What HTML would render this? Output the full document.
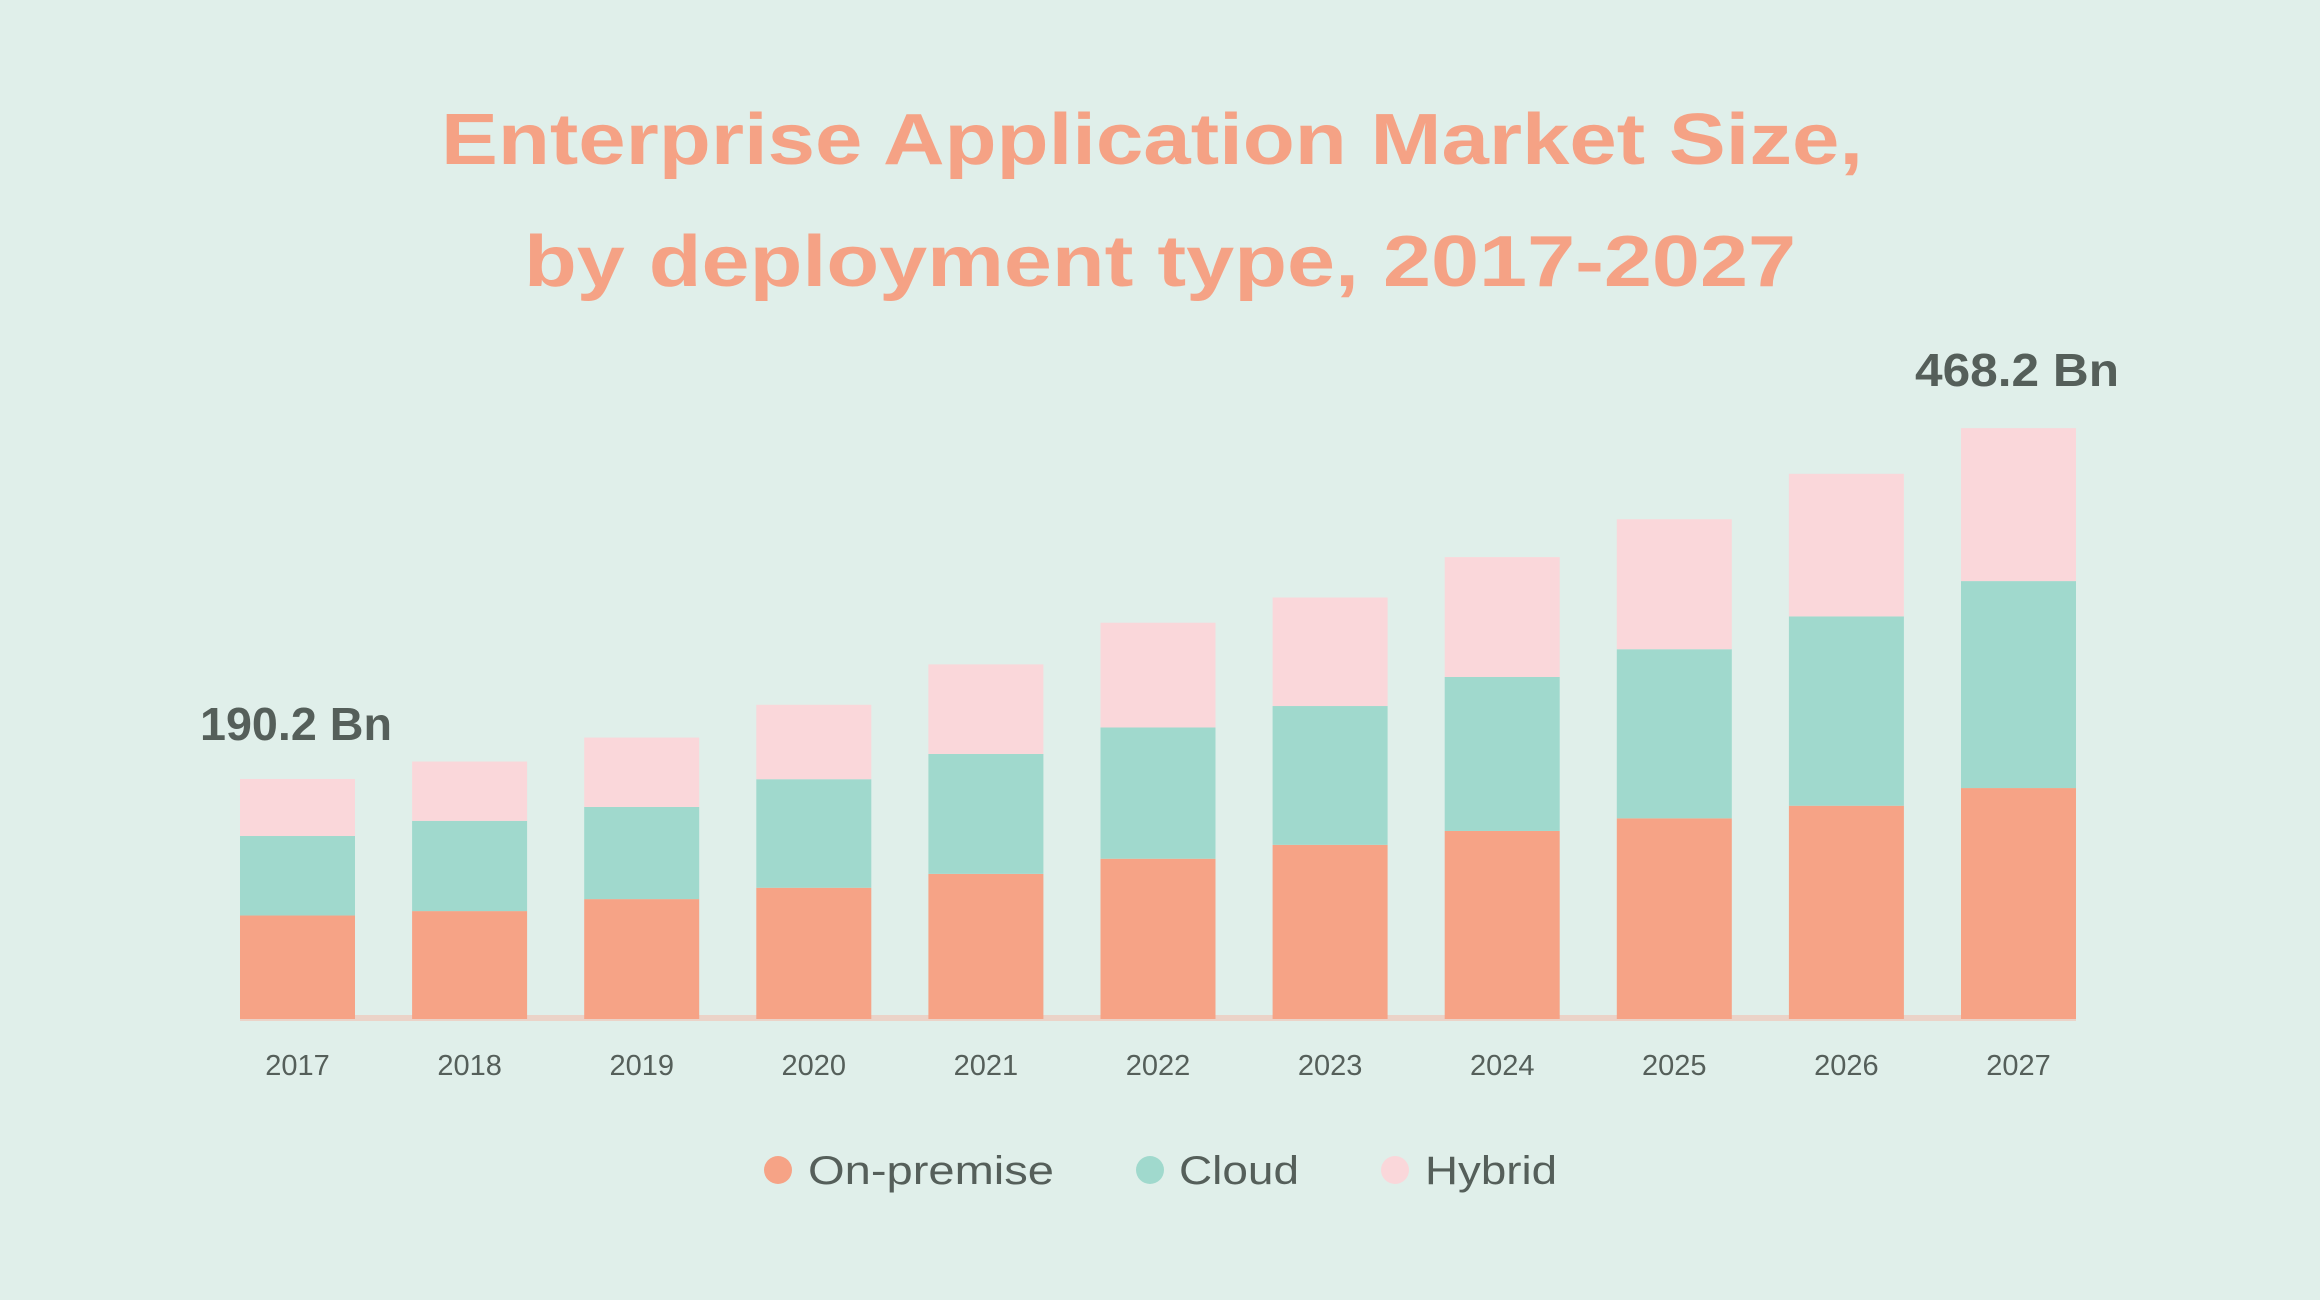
<!DOCTYPE html>
<html><head><meta charset="utf-8"><style>
html,body{margin:0;padding:0;background:#E0EFEA;}
svg{display:block;font-family:"Liberation Sans",sans-serif;}
</style></head><body>
<svg id="chart" width="2320" height="1300" viewBox="0 0 2320 1300" xmlns="http://www.w3.org/2000/svg">
<rect width="2320" height="1300" fill="#E0EFEA"/>
<text x="1152" y="164" text-anchor="middle" font-size="72" font-weight="bold" fill="#F5A285" textLength="1422" lengthAdjust="spacingAndGlyphs">Enterprise Application Market Size,</text>
<text x="1160" y="286" text-anchor="middle" font-size="72" font-weight="bold" fill="#F5A285" textLength="1272" lengthAdjust="spacingAndGlyphs">by deployment type, 2017-2027</text>
<rect x="240" y="1015" width="1836" height="6" fill="#EBD3C8"/>
<g id="bars"></g>
<g id="labels"></g>
<text x="296" y="740" text-anchor="middle" font-size="46" font-weight="bold" fill="#555F5A" textLength="192" lengthAdjust="spacingAndGlyphs">190.2 Bn</text>
<text x="2017" y="386" text-anchor="middle" font-size="46" font-weight="bold" fill="#555F5A" textLength="204" lengthAdjust="spacingAndGlyphs">468.2 Bn</text>
<g>
<g><circle cx="778" cy="1170" r="14" fill="#F6A386"/><text x="808" y="1184" font-size="40" fill="#555F5A" textLength="246" lengthAdjust="spacingAndGlyphs">On-premise</text></g>
<g><circle cx="1150" cy="1170" r="14" fill="#A0D9CD"/><text x="1179" y="1184" font-size="40" fill="#555F5A" textLength="120" lengthAdjust="spacingAndGlyphs">Cloud</text></g>
<g><circle cx="1395" cy="1170" r="14" fill="#FAD7DA"/><text x="1425" y="1184" font-size="40" fill="#555F5A" textLength="132" lengthAdjust="spacingAndGlyphs">Hybrid</text></g>
</g>
</svg>
<script>
const years = ["2017","2018","2019","2020","2021","2022","2023","2024","2025","2026","2027"];
const onPremise = [82, 85.5, 95, 104, 115, 127, 138, 149, 159, 169, 183];
const cloud = [63, 71.5, 73, 86, 95, 104, 110, 122, 134, 150, 164];
const hybrid = [45.2, 47, 55, 59, 71, 83, 86, 95, 103, 113, 121.2];

const NS = "http://www.w3.org/2000/svg";
const baseY = 1019, pxPerBn = 1.262, x0 = 240, step = 172.1, bw = 115;
const yScale = v => v * pxPerBn;
const xPos = i => x0 + i * step;
const series = [[onPremise, "#F6A386", "on-premise"], [cloud, "#A0D9CD", "cloud"], [hybrid, "#FAD7DA", "hybrid"]];
const bars = document.getElementById("bars");
const labels = document.getElementById("labels");
years.forEach((yr, i) => {
  let acc = 0;
  series.forEach(([arr, color, name]) => {
    const h = yScale(arr[i]);
    const r = document.createElementNS(NS, "rect");
    r.setAttribute("x", xPos(i));
    r.setAttribute("y", baseY - yScale(acc) - h);
    r.setAttribute("width", bw);
    r.setAttribute("height", h);
    r.setAttribute("fill", color);
    
    
    bars.appendChild(r);
    acc += arr[i];
  });
  const t = document.createElementNS(NS, "text");
  t.setAttribute("x", xPos(i) + bw / 2);
  t.setAttribute("y", 1075);
  t.setAttribute("text-anchor", "middle");
  t.setAttribute("font-size", "29");
  t.setAttribute("fill", "#555F5A");
  t.textContent = yr;
  
  
  labels.appendChild(t);
});
</script>
</body></html>
